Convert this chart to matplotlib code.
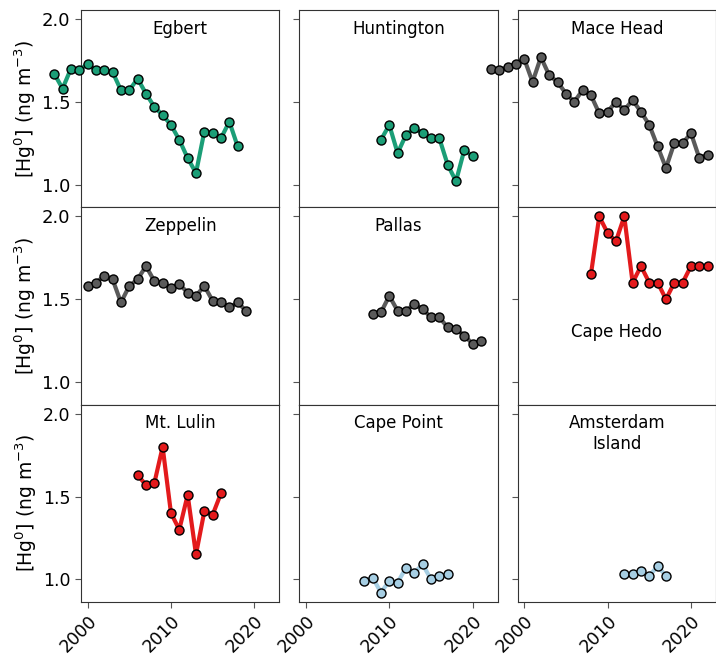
import numpy as np
import matplotlib.pyplot as plt

# annual mean Hg0 per site
egbert_yr = list(range(1996, 2019))
egbert = [1.67, 1.58, 1.70, 1.69, 1.73, 1.69, 1.69, 1.68, 1.57, 1.57, 1.64, 1.55,
          1.47, 1.42, 1.36, 1.27, 1.16, 1.07, 1.32, 1.31, 1.28, 1.38, 1.23]

hunt_yr = list(range(2009, 2021))
hunt = [1.27, 1.36, 1.19, 1.30, 1.34, 1.31, 1.28, 1.28, 1.12, 1.02, 1.21, 1.17]

mace_yr = list(range(1996, 2023))
mace = [1.70, 1.69, 1.71, 1.73, 1.76, 1.62, 1.77, 1.66, 1.62, 1.55, 1.50, 1.57,
        1.54, 1.43, 1.44, 1.50, 1.45, 1.51, 1.44, 1.36, 1.23, 1.10, 1.25, 1.25,
        1.31, 1.16, 1.18]

zep_yr = list(range(2000, 2020))
zep = [1.58, 1.60, 1.64, 1.62, 1.48, 1.58, 1.62, 1.70, 1.61, 1.60, 1.57, 1.59,
       1.54, 1.52, 1.58, 1.49, 1.48, 1.45, 1.48, 1.43]

pallas_yr = list(range(2008, 2022))
pallas = [1.41, 1.42, 1.52, 1.43, 1.43, 1.47, 1.44, 1.39, 1.39, 1.33, 1.32, 1.28,
          1.23, 1.25]

hedo_yr = list(range(2008, 2023))
hedo = [1.65, 2.0, 1.9, 1.85, 2.0, 1.6, 1.7, 1.6, 1.6, 1.5, 1.6, 1.6, 1.7, 1.7, 1.7]

lulin_yr = list(range(2006, 2017))
lulin = [1.63, 1.57, 1.58, 1.80, 1.40, 1.30, 1.51, 1.15, 1.41, 1.39, 1.52]

cpt_yr = list(range(2007, 2018))
cpt = [0.99, 1.01, 0.92, 0.99, 0.98, 1.07, 1.04, 1.09, 1.00, 1.02, 1.03]

ams_yr = list(range(2012, 2018))
ams = [1.03, 1.03, 1.05, 1.02, 1.08, 1.02]

green = '#1b9e77'
grey = '#5a5a5a'
red = '#e31a1c'
blue = '#a6cee3'

sites = [
    ('Egbert', egbert_yr, egbert, green),
    ('Huntington', hunt_yr, hunt, green),
    ('Mace Head', mace_yr, mace, grey),
    ('Zeppelin', zep_yr, zep, grey),
    ('Pallas', pallas_yr, pallas, grey),
    ('Cape Hedo', hedo_yr, hedo, red),
    ('Mt. Lulin', lulin_yr, lulin, red),
    ('Cape Point', cpt_yr, cpt, blue),
    ('Amsterdam\nIsland', ams_yr, ams, blue),
]

plt.rcParams['font.size'] = 12
plt.rcParams['axes.edgecolor'] = '#333333'

fig, axs = plt.subplots(3, 3, figsize=(7.16, 6.55), dpi=100, sharex=True, sharey=True)
plt.subplots_adjust(left=0.113, right=1.0, top=0.985, bottom=0.081, wspace=0.1, hspace=0)

for ax, (name, yr, val, c) in zip(axs.flat, sites):
    ax.plot(yr, val, '-o', color=c, lw=3, ms=6.5, mec='k', mew=1, clip_on=False, zorder=3)
    if name == 'Cape Hedo':
        ax.text(0.5, 0.367, name, transform=ax.transAxes, ha='center', va='center', fontsize=12)
    else:
        ax.text(0.5, 0.95, name, transform=ax.transAxes, ha='center', va='top', fontsize=12)
    ax.tick_params(color='#555555', length=4)

ax = axs[0, 0]
ax.set_xlim(1999.2, 2023)
ax.set_ylim(0.863, 2.056)
ax.set_xticks([2000, 2010, 2020])
ax.set_yticks([1.0, 1.5, 2.0])

for i in range(3):
    axs[i, 0].set_ylabel(r'[Hg$^0$] (ng m$^{-3}$)', fontsize=13.5, labelpad=3)
    axs[i, 0].tick_params(labelsize=13)
    for j in range(3):
        if i < 2:
            axs[i, j].tick_params(bottom=False)
for ax in axs[2]:
    ax.tick_params(labelsize=12.5)
    plt.setp(ax.get_xticklabels(), rotation=45, ha='right', rotation_mode='anchor')

plt.savefig('out.png', dpi=100)
